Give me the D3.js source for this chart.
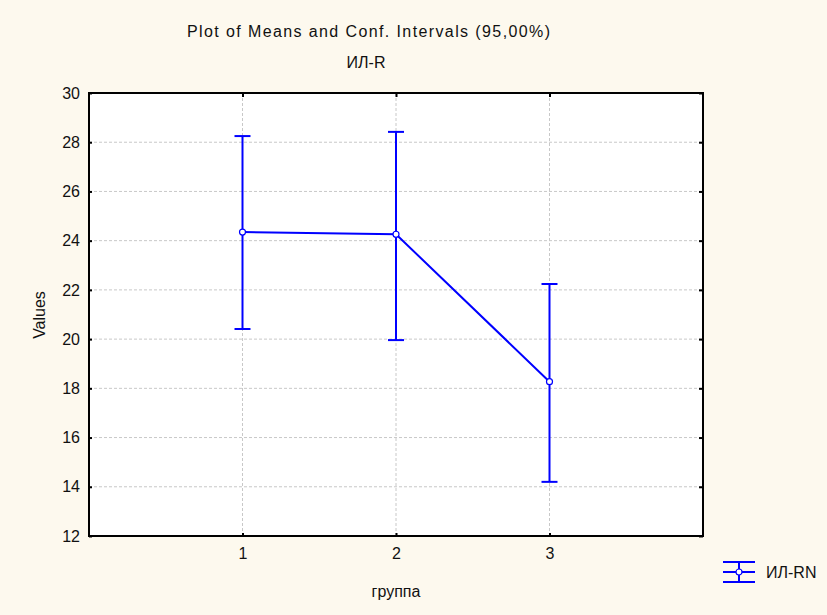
<!DOCTYPE html>
<html>
<head>
<meta charset="utf-8">
<script src="https://cdn.jsdelivr.net/npm/d3@7"></script>
<style>
  body { margin: 0; background: #fdf9ee; }
  text { font-family: "Liberation Sans", Arial, sans-serif; fill: #111; }
</style>
</head>
<body>
<svg id="chart"></svg>
<script>
// data
const groups = [1, 2, 3];
const means = [24.35, 24.26, 18.27];
const upper = [28.25, 28.42, 22.24];
const lower = [20.41, 19.96, 14.2];
const yTicks = [12, 14, 16, 18, 20, 22, 24, 26, 28, 30];
const seriesName = 'ИЛ-RN';

const W = 827, H = 615;
const m = { left: 89, right: 703, top: 93, bottom: 536 };

const svg = d3.select('#chart')
    .attr('width', W)
    .attr('height', H);

svg.append('rect')
    .attr('width', W).attr('height', H)
    .attr('fill', '#fdf9ee');

const x = d3.scaleLinear().domain([0, 4]).range([m.left, m.right]);
const y = d3.scaleLinear().domain([12, 30]).range([m.bottom, m.top]);

svg.append('rect')
    .attr('x', m.left).attr('y', m.top)
    .attr('width', m.right - m.left).attr('height', m.bottom - m.top)
    .attr('fill', '#fff');

// grid
svg.append('g')
    .selectAll('line')
    .data(yTicks.slice(1, -1))
    .join('line')
    .attr('x1', m.left).attr('x2', m.right)
    .attr('y1', d => y(d)).attr('y2', d => y(d))
    .attr('stroke', '#c8c8c8').attr('stroke-dasharray', '3,2');

svg.append('g')
    .selectAll('line')
    .data(groups)
    .join('line')
    .attr('x1', d => x(d)).attr('x2', d => x(d))
    .attr('y1', m.top).attr('y2', m.bottom)
    .attr('stroke', '#c8c8c8').attr('stroke-dasharray', '3,2');

// axes
const yAxis = d3.axisLeft(y).tickValues(yTicks).tickSize(-3).tickPadding(9).tickFormat(d3.format('d'));
const xAxis = d3.axisBottom(x).tickValues(groups).tickSize(-3).tickPadding(12).tickFormat(d3.format('d'));

svg.append('g')
    .attr('transform', `translate(${m.left},0)`)
    .call(yAxis);
svg.append('g')
    .attr('transform', `translate(0,${m.bottom})`)
    .call(xAxis);
svg.append('g')
    .attr('transform', `translate(0,${m.top})`)
    .call(d3.axisTop(x).tickValues(groups).tickSize(-4).tickFormat(''));
svg.append('g')
    .attr('transform', `translate(${m.right},0)`)
    .call(d3.axisRight(y).tickValues(yTicks).tickSize(-4).tickFormat(''));

svg.selectAll('.domain').remove();
svg.selectAll('.tick line').attr('stroke', '#000').attr('stroke-width', 2);
svg.selectAll('.tick text').style('font-size', '16px')
    .style('font-family', '"Liberation Sans", Arial, sans-serif').attr('fill', '#111');

svg.append('rect')
    .attr('x', m.left).attr('y', m.top)
    .attr('width', m.right - m.left).attr('height', m.bottom - m.top)
    .attr('fill', 'none').attr('stroke', '#000').attr('stroke-width', 2);

// error bars
const blue = '#0000ff';
const cap = 8;
const bars = svg.append('g');
bars.selectAll('line.v')
    .data(groups)
    .join('line')
    .attr('class', 'v')
    .attr('x1', d => x(d)).attr('x2', d => x(d))
    .attr('y1', (d, i) => y(upper[i])).attr('y2', (d, i) => y(lower[i]))
    .attr('stroke', blue).attr('stroke-width', 2);
bars.selectAll('line.u')
    .data(groups)
    .join('line')
    .attr('class', 'u')
    .attr('x1', d => x(d) - cap).attr('x2', d => x(d) + cap)
    .attr('y1', (d, i) => y(upper[i])).attr('y2', (d, i) => y(upper[i]))
    .attr('stroke', blue).attr('stroke-width', 2);
bars.selectAll('line.l')
    .data(groups)
    .join('line')
    .attr('class', 'l')
    .attr('x1', d => x(d) - cap).attr('x2', d => x(d) + cap)
    .attr('y1', (d, i) => y(lower[i])).attr('y2', (d, i) => y(lower[i]))
    .attr('stroke', blue).attr('stroke-width', 2);

const line = d3.line()
    .x((d, i) => x(groups[i]))
    .y(d => y(d));
svg.append('path')
    .attr('d', line(means))
    .attr('fill', 'none').attr('stroke', blue).attr('stroke-width', 2);

svg.append('g')
    .selectAll('circle')
    .data(means)
    .join('circle')
    .attr('cx', (d, i) => x(groups[i])).attr('cy', d => y(d))
    .attr('r', 3).attr('fill', '#fff').attr('stroke', blue).attr('stroke-width', 1.2);

// titles
svg.append('text')
    .attr('x', 187).attr('y', 37)
    .attr('textLength', 363).attr('lengthAdjust', 'spacing')
    .style('font-size', '16px')
    .text('Plot of Means and Conf. Intervals (95,00%)');
svg.append('text')
    .attr('x', 366).attr('y', 68)
    .attr('text-anchor', 'middle')
    .style('font-size', '16px')
    .text('ИЛ-R');
svg.append('text')
    .attr('transform', 'translate(45,315) rotate(-90)')
    .attr('text-anchor', 'middle')
    .style('font-size', '16px')
    .text('Values');
svg.append('text')
    .attr('x', 396).attr('y', 597)
    .attr('text-anchor', 'middle')
    .style('font-size', '16px')
    .text('группа');

// legend
const lg = svg.append('g').attr('transform', 'translate(723,572)');
[-10, 0, 10].forEach(dy => {
    lg.append('line')
        .attr('x1', 0).attr('x2', 32).attr('y1', dy).attr('y2', dy)
        .attr('stroke', blue).attr('stroke-width', 2);
});
lg.append('line')
    .attr('x1', 16).attr('x2', 16).attr('y1', -10).attr('y2', 10)
    .attr('stroke', blue).attr('stroke-width', 2);
lg.append('circle')
    .attr('cx', 16).attr('cy', 0).attr('r', 3)
    .attr('fill', '#fff').attr('stroke', blue).attr('stroke-width', 1.2);
lg.append('text')
    .attr('x', 43).attr('y', 6)
    .style('font-size', '16px')
    .text(seriesName);
</script>
</body>
</html>
